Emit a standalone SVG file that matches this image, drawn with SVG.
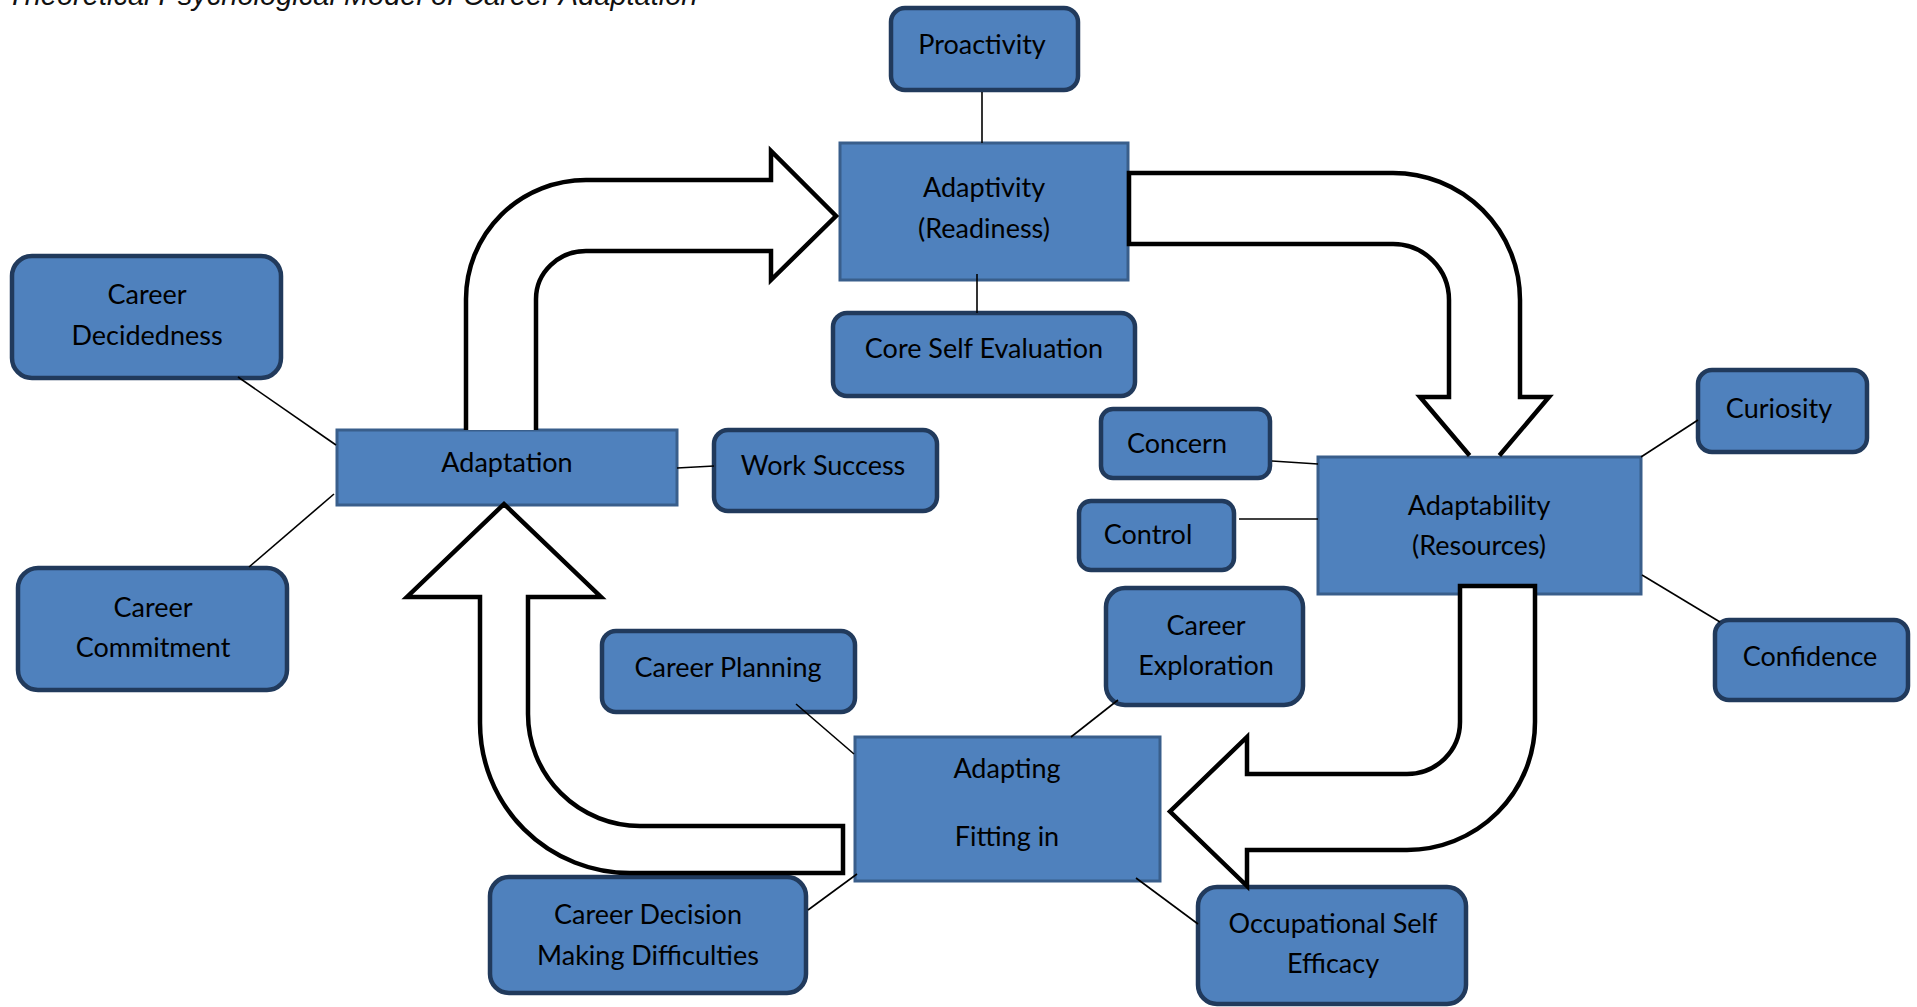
<svg xmlns="http://www.w3.org/2000/svg" width="1917" height="1007" viewBox="0 0 1917 1007">
  <style>
    .bg { fill: #ffffff; }
    .title { font-family: "Liberation Sans", Arial, sans-serif; font-style: italic; font-size: 29px; fill: #111111; }
    .node-round { fill: #4f81bd; stroke: #213a5c; stroke-width: 4.5; }
    .node-rect { fill: #4f81bd; stroke: #395e8b; stroke-width: 3; }
    .label { font-family: Lato, "Open Sans", "Liberation Sans", sans-serif; font-size: 27px; fill: #000000; text-anchor: middle; }
    .link { stroke: #000000; stroke-width: 1.6; fill: none; }
    .flow { fill: #ffffff; stroke: #000000; stroke-width: 4.5; stroke-linejoin: miter; }
  </style>

  <rect class="bg" x="0" y="0" width="1917" height="1007"/>

  <text class="title" x="7" y="5">Theoretical Psychological Model of Career Adaptation</text>

  <!-- concept nodes -->
  <g id="proactivity">
    <rect class="node-round" x="891" y="8" width="187" height="82" rx="14"/>
    <text class="label" x="982" y="54">Proactivity</text>
  </g>
  <g id="adaptivity">
    <rect class="node-rect" x="840" y="143" width="288" height="137"/>
    <text class="label" x="984" y="197">Adaptivity</text>
    <text class="label" x="984" y="238">(Readiness)</text>
  </g>
  <g id="core-self-evaluation">
    <rect class="node-round" x="833" y="313" width="302" height="83" rx="14"/>
    <text class="label" x="984" y="358">Core Self Evaluation</text>
  </g>
  <g id="career-decidedness">
    <rect class="node-round" x="12" y="256" width="269" height="122" rx="20"/>
    <text class="label" x="147" y="304">Career</text>
    <text class="label" x="147" y="345">Decidedness</text>
  </g>
  <g id="career-commitment">
    <rect class="node-round" x="18" y="568" width="269" height="122" rx="20"/>
    <text class="label" x="153" y="617">Career</text>
    <text class="label" x="153" y="657">Commitment</text>
  </g>
  <g id="adaptation">
    <rect class="node-rect" x="337" y="430" width="340" height="75"/>
    <text class="label" x="507" y="472">Adaptation</text>
  </g>
  <g id="work-success">
    <rect class="node-round" x="714" y="430" width="223" height="81" rx="14"/>
    <text class="label" x="823" y="475">Work Success</text>
  </g>
  <g id="concern">
    <rect class="node-round" x="1101" y="409" width="169" height="69" rx="12"/>
    <text class="label" x="1177" y="453">Concern</text>
  </g>
  <g id="control">
    <rect class="node-round" x="1079" y="501" width="155" height="69" rx="12"/>
    <text class="label" x="1148" y="544">Control</text>
  </g>
  <g id="adaptability">
    <rect class="node-rect" x="1318" y="457" width="323" height="137"/>
    <text class="label" x="1479" y="515">Adaptability</text>
    <text class="label" x="1479" y="555">(Resources)</text>
  </g>
  <g id="curiosity">
    <rect class="node-round" x="1698" y="370" width="169" height="82" rx="14"/>
    <text class="label" x="1779" y="418">Curiosity</text>
  </g>
  <g id="confidence">
    <rect class="node-round" x="1715" y="620" width="193" height="80" rx="14"/>
    <text class="label" x="1810" y="666">Confidence</text>
  </g>
  <g id="career-exploration">
    <rect class="node-round" x="1106" y="588" width="197" height="117" rx="19"/>
    <text class="label" x="1206" y="635">Career</text>
    <text class="label" x="1206" y="675">Exploration</text>
  </g>
  <g id="career-planning">
    <rect class="node-round" x="602" y="631" width="253" height="81" rx="14"/>
    <text class="label" x="728" y="677">Career Planning</text>
  </g>
  <g id="adapting">
    <rect class="node-rect" x="855" y="737" width="305" height="144"/>
    <text class="label" x="1007" y="778">Adapting</text>
    <text class="label" x="1007" y="846">Fitting in</text>
  </g>
  <g id="career-decision-making-difficulties">
    <rect class="node-round" x="490" y="877" width="316" height="116" rx="19"/>
    <text class="label" x="648" y="924">Career Decision</text>
    <text class="label" x="648" y="965">Making Difficulties</text>
  </g>
  <g id="occupational-self-efficacy">
    <rect class="node-round" x="1198" y="887" width="268" height="117" rx="19"/>
    <text class="label" x="1333" y="933">Occupational Self</text>
    <text class="label" x="1333" y="973">Efficacy</text>
  </g>

  <!-- connectors: thin association lines and the four bent block arrows of the cycle -->
  <g id="connectors">
    <line class="link" x1="982" y1="92" x2="982" y2="143"/>
    <line class="link" x1="977" y1="274" x2="977" y2="313"/>
    <line class="link" x1="238" y1="377" x2="336" y2="445"/>
    <line class="link" x1="249" y1="567" x2="334" y2="494"/>
    <line class="link" x1="677" y1="468" x2="714" y2="466"/>
    <line class="link" x1="1272" y1="461" x2="1318" y2="464"/>
    <line class="link" x1="1239" y1="519" x2="1318" y2="519"/>
    <line class="link" x1="1641" y1="457" x2="1698" y2="420"/>
    <line class="link" x1="1642" y1="575" x2="1720" y2="622"/>
    <line class="link" x1="796" y1="704" x2="854" y2="754"/>
    <line class="link" x1="1118" y1="700" x2="1071" y2="737"/>
    <line class="link" x1="808" y1="910" x2="857" y2="874"/>
    <line class="link" x1="1136" y1="878" x2="1198" y2="924"/>

    <!-- Adaptation up and over to Adaptivity (tail open into the box) -->
    <path class="flow" d="M 466 430 V 299 A 120 119 0 0 1 586 180 H 771 V 151 L 836 216 L 771 280 V 251 H 586 A 50 48 0 0 0 536 299 V 430"/>
    <!-- Adaptivity across and down to Adaptability (point tucked under the box) -->
    <path class="flow" d="M 1469.6 455.5 L 1420 397 H 1449 V 300 A 56 56 0 0 0 1393 244 H 1129 V 173 H 1393 A 127 127 0 0 1 1520 300 V 397 H 1549 L 1499.4 455.5"/>
    <!-- Adaptability down and back to Adapting -->
    <path class="flow" d="M 1460 586 H 1535 V 722 A 128 128 0 0 1 1407 850 H 1247 V 886 L 1170 811.5 L 1247 737 V 774 H 1407 A 53 52 0 0 0 1460 722 Z"/>
    <!-- Adapting round and up to Adaptation -->
    <path class="flow" d="M 843 826 V 873 H 630 A 150 150 0 0 1 480 723 V 597 H 407 L 504 504 L 601 597 H 528 V 714 A 112 112 0 0 0 640 826 Z"/>
  </g>
</svg>
